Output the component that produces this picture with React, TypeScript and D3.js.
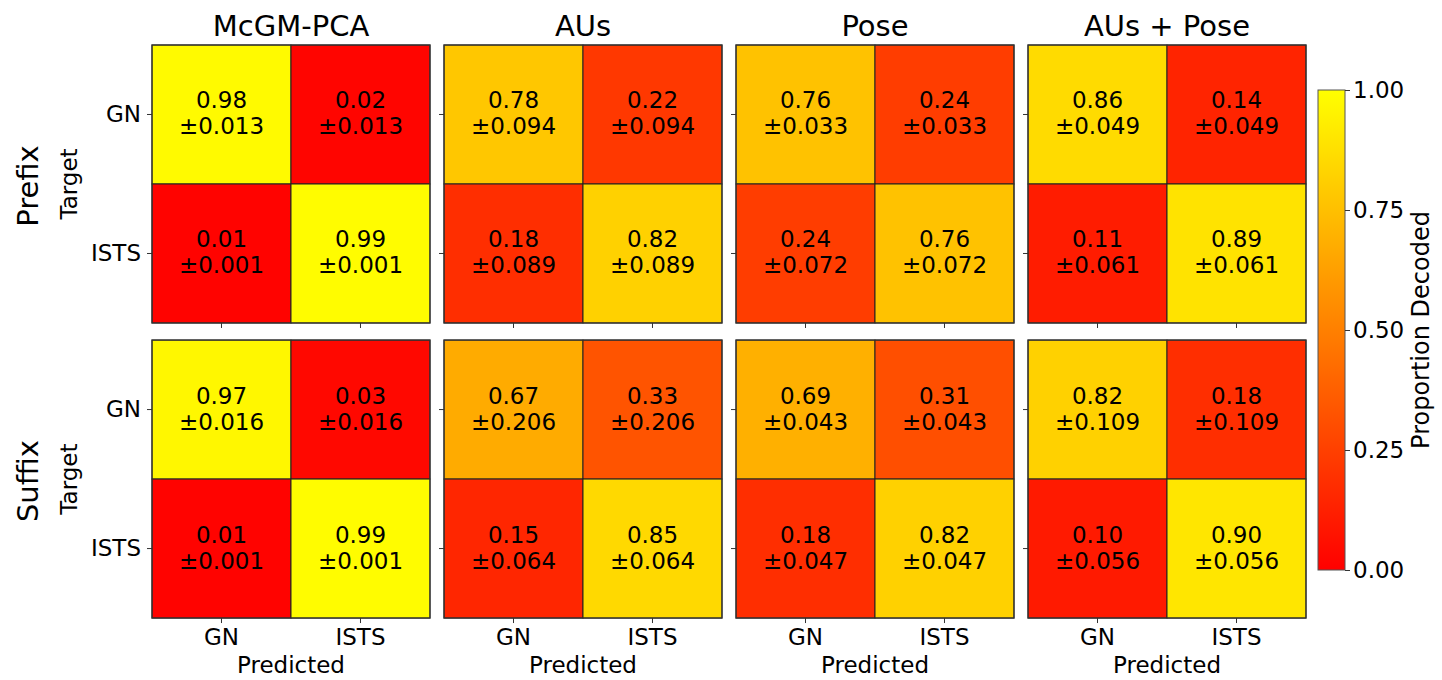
import * as d3 from "d3";
import React, { useEffect, useRef } from "react";

const categories = ["GN", "ISTS"];
const models = ["McGM-PCA", "AUs", "Pose", "AUs + Pose"];
const conditions = ["Prefix", "Suffix"];

// [model][target][predicted]
const prefixValues = [
  [[0.98, 0.02], [0.01, 0.99]],
  [[0.78, 0.22], [0.18, 0.82]],
  [[0.76, 0.24], [0.24, 0.76]],
  [[0.86, 0.14], [0.11, 0.89]],
];
const prefixErrors = [
  [[0.013, 0.013], [0.001, 0.001]],
  [[0.094, 0.094], [0.089, 0.089]],
  [[0.033, 0.033], [0.072, 0.072]],
  [[0.049, 0.049], [0.061, 0.061]],
];
const suffixValues = [
  [[0.97, 0.03], [0.01, 0.99]],
  [[0.67, 0.33], [0.15, 0.85]],
  [[0.69, 0.31], [0.18, 0.82]],
  [[0.82, 0.18], [0.1, 0.9]],
];
const suffixErrors = [
  [[0.016, 0.016], [0.001, 0.001]],
  [[0.206, 0.206], [0.064, 0.064]],
  [[0.043, 0.043], [0.047, 0.047]],
  [[0.109, 0.109], [0.056, 0.056]],
];
const colorTicks = [0, 0.25, 0.5, 0.75, 1];

const W = 1442;
const H = 680;
const FONT = "DejaVu Sans, sans-serif";

export default function App() {
  const svgRef = useRef<SVGSVGElement>(null);

  useEffect(() => {
    const svg = d3.select(svgRef.current);
    svg.selectAll("*").remove();

    const panelX = d3.scaleBand().domain(models).range([152, 1306]).paddingInner(0.048);
    const panelY = d3.scaleBand().domain(conditions).range([45, 618]).paddingInner(0.058);
    const size = panelX.bandwidth();
    const cell = d3.scaleBand().domain(categories).range([0, size]);
    const color = d3.scaleLinear<string>().domain([0, 1]).range(["#ff0000", "#ffff00"]).clamp(true);

    const allValues = [prefixValues, suffixValues];
    const allErrors = [prefixErrors, suffixErrors];

    conditions.forEach((cond, ci) => {
      models.forEach((model, mi) => {
        const g = svg
          .append("g")
          .attr("transform", `translate(${panelX(model)},${panelY(cond)})`);

        const cells = categories.flatMap((target, ti) =>
          categories.map((pred, pi) => ({
            target,
            pred,
            v: allValues[ci][mi][ti][pi],
            e: allErrors[ci][mi][ti][pi],
          }))
        );

        g.selectAll("rect.cell")
          .data(cells)
          .join("rect")
          .attr("class", "cell")
          .attr("x", (d) => cell(d.pred)!)
          .attr("y", (d) => cell(d.target)!)
          .attr("width", cell.bandwidth())
          .attr("height", cell.bandwidth())
          .attr("fill", (d) => color(d.v))
          .attr("stroke", "#222")
          .attr("stroke-width", 1);

        const txt = g
          .selectAll("text.val")
          .data(cells)
          .join("text")
          .attr("class", "val")
          .attr("text-anchor", "middle")
          .attr("font-family", FONT)
          .attr("font-size", 23)
          .attr("fill", "#000");
        txt
          .append("tspan")
          .attr("x", (d) => cell(d.pred)! + cell.bandwidth() / 2)
          .attr("y", (d) => cell(d.target)! + cell.bandwidth() / 2 - 6)
          .text((d) => d.v.toFixed(2));
        txt
          .append("tspan")
          .attr("x", (d) => cell(d.pred)! + cell.bandwidth() / 2)
          .attr("y", (d) => cell(d.target)! + cell.bandwidth() / 2 + 20)
          .text((d) => "±" + d.e.toFixed(3));

        g.append("rect")
          .attr("width", size)
          .attr("height", size)
          .attr("fill", "none")
          .attr("stroke", "#333")
          .attr("stroke-width", 1.2);

        // y ticks
        const yAxis = d3.axisLeft(cell).tickSize(5).tickPadding(6);
        const ya = g.append("g").call(yAxis);
        ya.select(".domain").remove();
        ya.selectAll("line").attr("stroke", "#333");
        ya.selectAll("text")
          .attr("font-family", FONT)
          .attr("font-size", 23)
          .attr("fill", "#000")
          .attr("opacity", mi === 0 ? 1 : 0);

        // x ticks
        const xAxis = d3.axisBottom(cell).tickSize(5).tickPadding(6);
        const xa = g.append("g").attr("transform", `translate(0,${size})`).call(xAxis);
        xa.select(".domain").remove();
        xa.selectAll("line").attr("stroke", "#333");
        xa.selectAll("text")
          .attr("font-family", FONT)
          .attr("font-size", 23)
          .attr("fill", "#000")
          .attr("opacity", ci === 1 ? 1 : 0);

        if (ci === 0) {
          g.append("text")
            .attr("x", size / 2)
            .attr("y", -9)
            .attr("text-anchor", "middle")
            .attr("font-family", FONT)
            .attr("font-size", 29)
            .text(model);
        }
        if (ci === 1) {
          g.append("text")
            .attr("x", size / 2)
            .attr("y", size + 55)
            .attr("text-anchor", "middle")
            .attr("font-family", FONT)
            .attr("font-size", 23)
            .text("Predicted");
        }
        if (mi === 0) {
          g.append("text")
            .attr("transform", `translate(-75,${size / 2}) rotate(-90)`)
            .attr("text-anchor", "middle")
            .attr("font-family", FONT)
            .attr("font-size", 23)
            .text("Target");
          g.append("text")
            .attr("transform", `translate(-114,${size / 2 + 2}) rotate(-90)`)
            .attr("text-anchor", "middle")
            .attr("font-family", FONT)
            .attr("font-size", 29)
            .text(cond);
        }
      });
    });

    // colorbar
    const cbX = 1318;
    const cbW = 27;
    const cbScale = d3.scaleLinear().domain([0, 1]).range([570, 90]);
    const defs = svg.append("defs");
    const grad = defs
      .append("linearGradient")
      .attr("id", "cbgrad")
      .attr("x1", 0)
      .attr("y1", 1)
      .attr("x2", 0)
      .attr("y2", 0);
    d3.range(0, 1.0001, 0.1).forEach((t) => {
      grad.append("stop").attr("offset", t).attr("stop-color", color(t));
    });
    svg
      .append("rect")
      .attr("x", cbX)
      .attr("y", cbScale(1))
      .attr("width", cbW)
      .attr("height", cbScale(0) - cbScale(1))
      .attr("fill", "url(#cbgrad)")
      .attr("stroke", "#555")
      .attr("stroke-width", 1);
    const cbAxis = d3
      .axisRight(cbScale)
      .tickValues(colorTicks)
      .tickFormat(d3.format(".2f"))
      .tickSize(5)
      .tickPadding(3);
    const cba = svg.append("g").attr("transform", `translate(${cbX + cbW},0)`).call(cbAxis);
    cba.select(".domain").remove();
    cba.selectAll("line").attr("stroke", "#333");
    cba.selectAll("text").attr("font-family", FONT).attr("font-size", 23).attr("fill", "#000");
    svg
      .append("text")
      .attr("transform", `translate(1429,330) rotate(-90)`)
      .attr("text-anchor", "middle")
      .attr("font-family", FONT)
      .attr("font-size", 24)
      .text("Proportion Decoded");
  }, []);

  return (
    <svg
      ref={svgRef}
      width={W}
      height={H}
      style={{ position: "absolute", left: 0, top: 0, background: "#fff" }}
    />
  );
}
